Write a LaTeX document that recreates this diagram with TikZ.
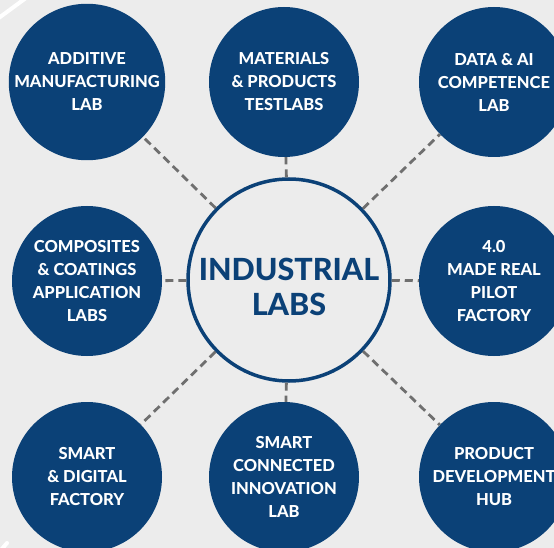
\documentclass[tikz,border=0pt]{standalone}
\usepackage{fontspec}
\setmainfont{Lato}
\newfontfamily\labfont{Lato Heavy}
\definecolor{labblue}{HTML}{0B4177}
\definecolor{bggray}{HTML}{ECECEC}
\definecolor{dashgray}{HTML}{6F6F6F}
\tikzset{
  lab/.style={circle, fill=labblue, minimum size=150pt, inner sep=0pt,
    text=white, align=center,
    font=\labfont\fontsize{16.5}{23}\selectfont},
  hub/.style={circle, draw=labblue, line width=3.5pt, fill=bggray,
    minimum size=202pt, inner sep=0pt, text=labblue, align=center,
    font=\labfont\fontsize{30.5}{35}\selectfont},
  link/.style={draw=dashgray, line width=2.8pt, dash pattern=on 8pt off 5pt}
}
\begin{document}
\begin{tikzpicture}[x=1pt, y=-1pt]
  % canvas
  \fill[bggray] (0,0) rectangle (554,548);
  \useasboundingbox (0,0) rectangle (554,548);
  \clip (0,0) rectangle (554,548);

  % stray white strokes at the corners
  \draw[white, line width=4pt] (-4,20) -- (30,-5);
  \draw[white, line width=4pt, line cap=round] (1,550) -- (7,543);

  % central hub
  \node[hub] (hub) at (289,280) {};
  \node[text=labblue, align=center, font=\labfont\fontsize{30.5}{35}\selectfont]
    (hubtext) at (289,287) {INDUSTRIAL\\LABS};

  % surrounding labs
  \node[lab] (am)  at (87,82)   {ADDITIVE\\MANUFACTURING\\LAB};
  \node[lab] (mp)  at (284,82)  {MATERIALS\\\& PRODUCTS\\TESTLABS};
  \node[lab] (ai)  at (494,82)  {DATA \& AI\\COMPETENCE\\LAB};
  \node[lab] (cc)  at (87,281)  {COMPOSITES\\\& COATINGS\\APPLICATION\\LABS};
  \node[lab] (pf)  at (494,281) {4.0\\MADE REAL\\PILOT\\FACTORY};
  \node[lab] (sd)  at (87,477)  {SMART\\\& DIGITAL\\FACTORY};
  \node[lab] (sc)  at (284,477) {SMART\\CONNECTED\\INNOVATION\\LAB};
  \node[lab] (pd)  at (494,477) {PRODUCT\\DEVELOPMENT\\HUB};

  % dashed links from the hub
  \foreach \n in {am,mp,ai,cc,pf,sd,sc,pd}
    \draw[link] (hub) -- (\n);
\end{tikzpicture}
\end{document}
